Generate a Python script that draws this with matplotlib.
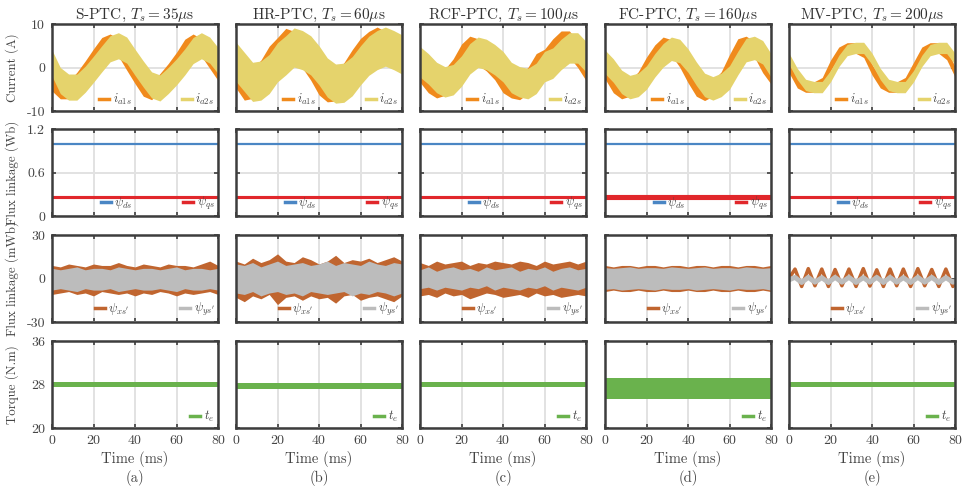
import matplotlib.pyplot as plt
from matplotlib.lines import Line2D

plt.rcParams['font.family'] = 'cmr10'
plt.rcParams['mathtext.fontset'] = 'cm'
plt.rcParams['axes.unicode_minus'] = False

# ---- data ----
TITLES = ['S-PTC', 'HR-PTC', 'RCF-PTC', 'FC-PTC', 'MV-PTC']
TS_US = [35, 60, 100, 160, 200]
PANELS = ['(a)', '(b)', '(c)', '(d)', '(e)']

T_MS = [0, 4, 8, 12, 16, 20, 24, 28, 32, 36, 40, 44, 48, 52, 56, 60, 64, 68, 72, 76, 80]

# phase currents, band centre (A)
I_A1S = [
    [-3.4, -5.2, -5.2, -3.1, -0.5, 2.3, 4.9, 5.7, 4.6, 1.4, -1.7, -4.6, -5.4, -3.4, -1.1, 1.5, 4.5, 5.7, 4.6, 1.8, -1.0],
    [-1.2, -4.0, -3.6, -1.8, 1.4, 3.4, 5.5, 4.8, 3.4, 0.6, -2.8, -4.4, -4.2, -2.4, 0.6, 3.2, 4.8, 5.8, 4.8, 3.6, 2.0],
    [-0.4, -2.8, -4.0, -3.4, -1.0, 2.4, 4.2, 3.6, 2.2, 0.2, -2.8, -4.0, -4.4, -3.0, 0.2, 1.2, 3.6, 5.4, 5.4, 3.0, 0.0],
    [-0.8, -4.0, -5.4, -4.8, -2.8, 0.6, 3.4, 5.2, 4.6, 1.9, -1.7, -4.8, -5.8, -4.8, -2.8, 1.2, 4.8, 5.4, 4.2, 0.6, -2.0],
    [0.0, -3.5, -4.5, -4.5, -3.5, 0.5, 3.5, 4.5, 4.5, 3.5, -0.5, -3.5, -4.5, -4.5, -3.5, 0.0, 3.5, 4.5, 4.5, 3.0, -1.0],
]
I_A2S = [
    [1.0, -3.0, -4.5, -4.5, -2.7, -0.4, 2.0, 4.3, 5.0, 4.0, 1.2, -1.5, -4.0, -4.7, -3.0, -1.0, 1.3, 3.9, 5.0, 4.0, 1.6],
    [1.3, -1.0, -3.3, -3.0, -1.5, 1.2, 2.8, 4.6, 4.0, 2.8, 0.5, -2.3, -3.7, -3.5, -2.0, 0.5, 2.7, 4.0, 4.8, 4.0, 3.0],
    [1.3, -0.3, -2.3, -3.3, -2.8, -0.8, 2.0, 3.5, 3.0, 1.8, 0.2, -2.3, -3.3, -3.7, -2.5, 0.2, 1.0, 3.0, 4.5, 4.5, 2.5],
    [1.3, -0.7, -3.3, -4.5, -4.0, -2.3, 0.5, 2.8, 4.3, 3.8, 1.6, -1.4, -4.0, -4.8, -4.0, -2.3, 1.0, 4.0, 4.5, 3.5, 0.5],
    [2.0, -1.5, -4.0, -4.5, -4.5, -2.0, 1.5, 4.0, 4.5, 4.5, 2.0, -1.5, -4.0, -4.5, -4.5, -2.0, 1.5, 4.0, 4.5, 4.5, 2.0],
]
I_A1S_HW = [2.0, 3.5, 3.0, 1.8, 1.2]
I_A2S_HW = [3.0, 4.5, 3.5, 2.7, 1.3]

# stator flux (Wb)
PSI_DS = [1.0, 1.0, 1.0, 1.0, 1.0]
PSI_QS = [0.26, 0.26, 0.26, 0.26, 0.26]
PSI_QS_HW = [0.018, 0.015, 0.015, 0.03, 0.018]

# x-y flux (mWb), band edges for (a)-(d)
PSI_X_HI = [
    [9, 8, 10, 9, 8, 10, 9, 9, 11, 9, 8, 10, 9, 8, 10, 9, 9, 8, 10, 12, 9],
    [12, 10, 14, 11, 13, 17, 12, 11, 15, 13, 10, 12, 16, 11, 13, 12, 14, 11, 13, 15, 12],
    [11, 9, 12, 10, 11, 12, 9, 11, 10, 12, 11, 10, 12, 11, 9, 12, 10, 11, 12, 10, 12],
    [9, 8, 9, 9, 8, 9, 9, 8, 9, 9, 8, 9, 9, 8, 9, 9, 8, 9, 9, 8, 9],
]
PSI_X_LO = [
    [-11, -10, -9, -11, -10, -12, -9, -10, -11, -10, -12, -10, -11, -9, -10, -12, -10, -11, -10, -9, -11],
    [-13, -16, -12, -14, -11, -18, -13, -12, -15, -12, -14, -13, -17, -12, -11, -15, -13, -12, -14, -16, -12],
    [-12, -11, -13, -10, -12, -11, -14, -12, -10, -11, -13, -12, -11, -13, -10, -12, -11, -13, -12, -11, -12],
    [-9, -8, -9, -9, -8, -9, -9, -8, -9, -9, -8, -9, -9, -8, -9, -9, -8, -9, -9, -8, -9],
]
PSI_Y_HI = [
    [7, 6, 7, 8, 6, 7, 7, 6, 8, 7, 6, 7, 7, 6, 7, 8, 6, 7, 7, 6, 7],
    [10, 9, 11, 8, 10, 12, 9, 10, 11, 9, 10, 12, 9, 11, 10, 9, 12, 10, 9, 11, 10],
    [6, 8, 5, 7, 8, 6, 7, 5, 8, 6, 7, 8, 5, 7, 6, 8, 5, 7, 8, 6, 7],
    [7.5, 7, 7.5, 8, 7, 7.5, 7.5, 7, 8, 7.5, 7, 7.5, 8, 7, 7.5, 7.5, 7, 8, 7.5, 7, 7.5],
]
PSI_Y_LO = [
    [-8, -7, -8, -9, -7, -8, -8, -7, -9, -8, -7, -8, -8, -7, -8, -9, -7, -8, -8, -7, -8],
    [-10, -11, -9, -12, -10, -9, -11, -10, -12, -9, -10, -11, -10, -9, -12, -10, -11, -9, -10, -12, -10],
    [-7, -6, -8, -6, -7, -8, -6, -7, -5, -8, -6, -7, -8, -6, -7, -5, -8, -6, -7, -8, -6],
    [-7.5, -7, -8, -7.5, -7, -7.5, -8, -7, -7.5, -7.5, -7, -8, -7.5, -7, -7.5, -8, -7, -7.5, -7.5, -7, -8],
]
# (e): ripple peaks / troughs
PSI_E_T = [0, 2.9, 6.1, 9.3, 12.5, 15.8, 19.0, 22.2, 25.5, 28.9, 32.3, 35.8, 39.0,
           42.3, 45.5, 48.7, 51.9, 55.1, 58.6, 62.1, 65.4, 68.8, 72.2, 75.6, 79.0, 80]
PSI_XE = [0, 6.5, -5.5, 6.8, -5.0, 6.5, -5.5, 6.2, -5.0, 6.5, -5.5, 6.8, -5.2,
          6.0, -5.5, 6.5, -5.0, 6.5, -5.5, 6.8, -5.0, 6.2, -5.5, 6.5, -5.5, -3.0]
PSI_YE = [-1.0, 0.8, -2.8, 0.8, -2.6, 0.6, -2.8, 0.8, -2.6, 0.8, -2.8, 0.6, -2.6,
          0.8, -2.8, 0.8, -2.6, 0.6, -2.8, 0.8, -2.6, 0.8, -2.8, 0.6, -2.6, -2.0]

# torque (N.m)
TE = [28.0, 27.7, 28.0, 27.3, 28.0]
TE_HW = [0.45, 0.55, 0.4, 1.9, 0.55]

C_I1, C_I2 = '#f08a1c', '#e5d36c'
C_DS, C_QS = '#4a86c4', '#e1272b'
C_X, C_Y = '#c0652f', '#bcbcbc'
C_TE = '#6ab24d'
DARK = '#3d3d3d'
TXT = '#444444'

ROW_LIM = [(-10, 10), (0, 1.2), (-30, 30), (20, 36)]
ROW_TICKS = [[-10, 0, 10], [0, 0.6, 1.2], [-30, 0, 30], [20, 28, 36]]
ROW_TICKLBL = [['-10', '0', '10'], ['0', '0.6', '1.2'], ['-30', '0', '30'], ['20', '28', '36']]
ROW_YLBL = ['Current (A)', 'Flux linkage (Wb)', 'Flux linkage (mWb)', 'Torque (N.m)']

W_PX, H_PX = 965, 487
LEFTS = [52, 236, 420, 605, 789]
TOPS = [24, 129, 235, 341]
AW, AH = 166, 87

fig = plt.figure(figsize=(W_PX / 100, H_PX / 100), dpi=100)


def legend(ax, labels, colors):
    hs = [Line2D([], [], color=c, lw=2.5) for c in colors]
    ax.legend(hs, labels, loc='lower right', ncol=len(labels), frameon=False,
              fontsize=9, handlelength=0.8, handletextpad=0.3, columnspacing=4.0,
              borderaxespad=0.1, borderpad=0.2, labelcolor=TXT)


for c in range(5):
    for r in range(4):
        ax = fig.add_axes([LEFTS[c] / W_PX, 1 - (TOPS[r] + AH) / H_PX, AW / W_PX, AH / H_PX])
        if r == 0:
            lo1 = [v - I_A1S_HW[c] for v in I_A1S[c]]
            hi1 = [v + I_A1S_HW[c] for v in I_A1S[c]]
            lo2 = [v - I_A2S_HW[c] for v in I_A2S[c]]
            hi2 = [v + I_A2S_HW[c] for v in I_A2S[c]]
            ax.fill_between(T_MS, lo1, hi1, color=C_I1, lw=0)
            ax.fill_between(T_MS, lo2, hi2, color=C_I2, lw=0)
            legend(ax, ['$i_{a1s}$', '$i_{a2s}$'], [C_I1, C_I2])
            ax.set_title(f'{TITLES[c]}, $T_s = {TS_US[c]}\\mu$s', fontsize=11, color='#333333', pad=3)
        elif r == 1:
            ax.plot([0, 80], [PSI_DS[c]] * 2, color=C_DS, lw=1.6)
            ax.fill_between([0, 80], PSI_QS[c] - PSI_QS_HW[c], PSI_QS[c] + PSI_QS_HW[c], color=C_QS, lw=0.8, ec=C_QS)
            legend(ax, ['$\\psi_{ds}$', '$\\psi_{qs}$'], [C_DS, C_QS])
        elif r == 2:
            if c < 4:
                ax.fill_between(T_MS, PSI_X_LO[c], PSI_X_HI[c], color=C_X, lw=0)
                ax.fill_between(T_MS, PSI_Y_LO[c], PSI_Y_HI[c], color=C_Y, lw=0)
            else:
                ax.plot(PSI_E_T, PSI_XE, color=C_X, lw=2.5)
                ax.plot(PSI_E_T, PSI_YE, color=C_Y, lw=3.5)
            legend(ax, ["$\\psi_{xs'}$", "$\\psi_{ys'}$"], [C_X, C_Y])
        else:
            ax.fill_between([0, 80], TE[c] - TE_HW[c], TE[c] + TE_HW[c], color=C_TE, lw=0)
            legend(ax, ['$t_e$'], [C_TE])

        ax.set_xlim(0, 80)
        ax.set_ylim(*ROW_LIM[r])
        ax.set_xticks([0, 20, 40, 60, 80])
        ax.set_yticks(ROW_TICKS[r])
        ax.grid(True, color='#e2e2e2', lw=1.4)
        ax.set_axisbelow(True)
        for s in ax.spines.values():
            s.set_color(DARK)
            s.set_linewidth(1.8)
        ax.tick_params(direction='in', top=True, right=True, length=3, width=1.2,
                       color=DARK, labelcolor=TXT, labelsize=10, pad=5)
        if c == 0:
            ax.set_yticklabels(ROW_TICKLBL[r])
            ax.set_ylabel(ROW_YLBL[r], fontsize=9.3, color=TXT)
            ax.yaxis.set_label_coords(-0.2, 0.5)
        else:
            ax.set_yticklabels([])
        if r == 3:
            ax.set_xlabel('Time (ms)\n' + PANELS[c], fontsize=10.5, color=TXT, linespacing=1.25, labelpad=3)
        else:
            ax.set_xticklabels([])

fig.savefig('out.png', dpi=100)
